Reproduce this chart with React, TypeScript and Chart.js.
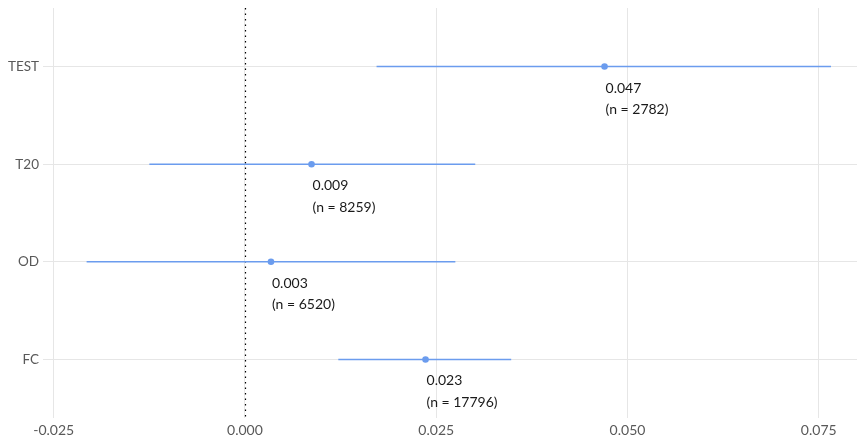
import React, { useEffect, useRef } from "react";
import { Chart, registerables } from "chart.js";

Chart.register(...registerables);

const categories = ["TEST", "T20", "OD", "FC"];
const estimates = [0.047, 0.0087, 0.0034, 0.0236];
const lowerCI = [0.0172, -0.0125, -0.0207, 0.0122];
const upperCI = [0.0766, 0.0301, 0.0275, 0.0348];
const estimateLabels = ["0.047", "0.009", "0.003", "0.023"];
const sampleSizes = [2782, 8259, 6520, 17796];
const xTicks = [-0.025, 0, 0.025, 0.05, 0.075];

const BLUE = "#6b9cee";
const FONT = "'Source Sans Pro', Lato, 'Noto Sans', sans-serif";

export default function App() {
  const ref = useRef<HTMLCanvasElement | null>(null);

  useEffect(() => {
    if (!ref.current) return;
    const ciSets = categories.map((c, i) => ({
      type: "scatter" as const,
      label: c + " CI",
      data: [
        { x: lowerCI[i], y: i },
        { x: upperCI[i], y: i },
      ],
      showLine: true,
      borderColor: BLUE,
      borderWidth: 1.5,
      pointRadius: 0,
      pointHoverRadius: 0,
    }));
    const pointSet = {
      type: "scatter" as const,
      label: "estimate",
      data: estimates.map((v, i) => ({ x: v, y: i })),
      backgroundColor: BLUE,
      borderColor: BLUE,
      pointRadius: 3.3,
      borderWidth: 0,
    };

    const zeroLine = {
      id: "zeroLine",
      beforeDatasetsDraw(chart: any) {
        const { ctx, chartArea, scales } = chart;
        const x = Math.round(scales.x.getPixelForValue(0)) + 0.5;
        ctx.save();
        ctx.strokeStyle = "#000";
        ctx.lineWidth = 1.2;
        ctx.setLineDash([1.5, 4]);
        ctx.beginPath();
        ctx.moveTo(x, chartArea.top);
        ctx.lineTo(x, chartArea.bottom);
        ctx.stroke();
        ctx.restore();
      },
    };

    const labelsPlugin = {
      id: "estLabels",
      afterDatasetsDraw(chart: any) {
        const { ctx, scales } = chart;
        ctx.save();
        ctx.fillStyle = "#1a1a1a";
        ctx.font = "14px " + FONT;
        ctx.textAlign = "left";
        ctx.textBaseline = "middle";
        estimates.forEach((v, i) => {
          const x = scales.x.getPixelForValue(v) + 1;
          const y = scales.y.getPixelForValue(i);
          ctx.fillText(estimateLabels[i], x, y + 21.5);
          ctx.fillText("(n = " + sampleSizes[i] + ")", x, y + 43);
        });
        ctx.restore();
      },
    };

    const chart = new Chart(ref.current, {
      type: "scatter",
      data: { datasets: [...ciSets, pointSet] as any },
      options: {
        animation: false,
        responsive: false,
        layout: { padding: { top: 8, right: 1, left: 0, bottom: 0 } },
        plugins: {
          legend: { display: false },
          tooltip: { enabled: false },
        },
        scales: {
          x: {
            type: "linear",
            min: -0.0264,
            max: 0.08,
            afterBuildTicks: (s: any) => {
              s.ticks = xTicks.map((v) => ({ value: v }));
            },
            afterFit: (s: any) => {
              s.height = 23;
              s.paddingLeft = 0;
              s.paddingRight = 0;
              s.paddingTop = 0;
              s.paddingBottom = 0;
            },
            grid: { color: "#e6e6e6", drawTicks: false, lineWidth: 1 },
            border: { display: false },
            ticks: {
              padding: 4,
              color: "#595959",
              font: { size: 14, family: FONT },
              callback: (v: any) => Number(v).toFixed(3),
            },
          },
          y: {
            type: "linear",
            reverse: true,
            min: -0.6,
            max: 3.6,
            afterBuildTicks: (s: any) => {
              s.ticks = categories.map((_, i) => ({ value: i }));
            },
            afterFit: (s: any) => {
              s.width = 43;
              s.paddingLeft = 0;
              s.paddingRight = 0;
              s.paddingTop = 0;
              s.paddingBottom = 0;
            },
            grid: { color: "#e6e6e6", drawTicks: false, lineWidth: 1 },
            border: { display: false },
            ticks: {
              padding: 4,
              color: "#595959",
              font: { size: 13.5, family: FONT },
              callback: (v: any) => categories[Number(v)] ?? "",
            },
          },
        },
      },
      plugins: [zeroLine, labelsPlugin],
    });
    return () => chart.destroy();
  }, []);

  return (
    <div style={{ position: "fixed", left: 0, top: 0, width: 861, height: 441, background: "#fff" }}>
      <canvas ref={ref} width={861} height={441} />
    </div>
  );
}
